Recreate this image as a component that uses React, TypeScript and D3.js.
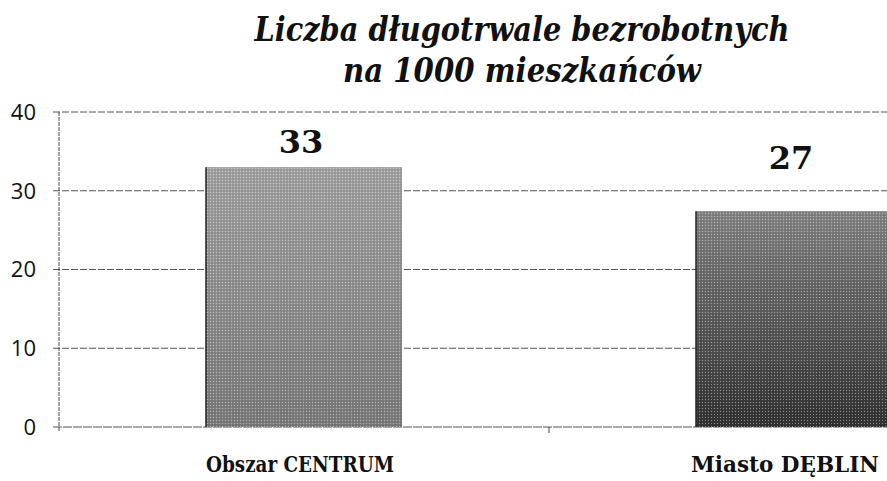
import * as d3 from "d3";
import React from "react";

// chart data
const categories = ["Obszar CENTRUM", "Miasto DĘBLIN"];
const values = [33, 27.4];
const yTicks = [0, 10, 20, 30, 40];
const titleLines = ["Liczba długotrwale bezrobotnych", "na 1000 mieszkańców"];

const W = 887;
const H = 481;
// plot area runs past the right edge (the original is cropped there)
const plot = { left: 59, right: 1039, top: 112, bottom: 427 };
const labelLift = [14, 42]; // value labels were nudged by hand in the original
const barFill = ["url(#g0)", "url(#g1)"];
const serif = "'DejaVu Serif', serif";
const catLabelW = 188;

export default function App() {
  const x = d3
    .scaleBand<string>()
    .domain(categories)
    .range([plot.left, plot.right])
    .padding(0);
  const barW = x.bandwidth() * 0.4;
  const y = d3.scaleLinear().domain([0, 40]).range([plot.bottom, plot.top]);
  const fmt = d3.format(".0f");
  const center = (c: string) => (x(c) ?? 0) + x.bandwidth() / 2;

  return (
    <svg
      width={W}
      height={H}
      style={{ position: "absolute", left: 0, top: 0, background: "#fff" }}
    >
      <defs>
        <linearGradient id="g0" x1="0" y1="0" x2="0" y2="1">
          <stop offset="0" stopColor="#a4a4a4" />
          <stop offset="1" stopColor="#7c7c7c" />
        </linearGradient>
        <linearGradient id="g1" x1="0" y1="0" x2="0" y2="1">
          <stop offset="0" stopColor="#858585" />
          <stop offset="1" stopColor="#333" />
        </linearGradient>
        <pattern id="tex" width="3" height="3" patternUnits="userSpaceOnUse">
          <rect x="0" y="0" width="1" height="1" fill="#fff" opacity="0.4" />
          <rect x="1.5" y="1.5" width="1" height="1" fill="#000" opacity="0.3" />
        </pattern>
        <clipPath id="clip">
          <rect x={0} y={0} width={W} height={H} />
        </clipPath>
      </defs>

      {/* title */}
      {titleLines.map((t, i) => (
        <text
          key={t}
          x={522}
          y={41 + i * 41}
          textAnchor="middle"
          fontFamily={serif}
          fontWeight="bold"
          fontStyle="italic"
          fontSize={33}
          textLength={i === 0 ? 535 : 358}
          lengthAdjust="spacingAndGlyphs"
          fill="#111"
        >
          {t}
        </text>
      ))}

      <g clipPath="url(#clip)">
        {/* gridlines + y ticks */}
        {yTicks.map((t) => (
          <g key={t}>
            <line
              x1={plot.left - 6}
              x2={plot.right}
              y1={y(t)}
              y2={y(t)}
              stroke="#555"
              strokeWidth={1}
              strokeDasharray={t === 0 ? "9 1" : "7 2"}
            />
            <text
              x={36}
              y={y(t)}
              dy="0.36em"
              textAnchor="end"
              fontFamily="'Open Sans', sans-serif"
              fontSize={22}
              fill="#111"
            >
              {t}
            </text>
          </g>
        ))}

        {/* y axis line */}
        <line
          x1={plot.left}
          x2={plot.left}
          y1={plot.top}
          y2={plot.bottom + 4}
          stroke="#444"
          strokeDasharray="4 1"
        />
        {/* category divider tick */}
        <line
          x1={plot.left + x.step()}
          x2={plot.left + x.step()}
          y1={plot.bottom}
          y2={plot.bottom + 6}
          stroke="#444"
        />

        {/* bars */}
        {categories.map((c, i) => {
          const cx = center(c);
          const x0 = cx - barW / 2;
          return (
            <g key={c}>
              <rect
                x={x0}
                y={y(values[i])}
                width={barW}
                height={y(0) - y(values[i])}
                fill={barFill[i]}
              />
              <rect
                x={x0}
                y={y(values[i])}
                width={barW}
                height={y(0) - y(values[i])}
                fill="url(#tex)"
              />
              <line
                x1={x0}
                x2={x0}
                y1={y(values[i])}
                y2={y(0)}
                stroke="#222"
                strokeWidth={1.5}
              />
              <text
                x={cx - 3}
                y={y(values[i]) - labelLift[i]}
                textAnchor="middle"
                fontFamily={serif}
                fontWeight="bold"
                fontSize={32}
                fill="#111"
              >
                {fmt(values[i])}
              </text>
            </g>
          );
        })}
      </g>

      {/* category labels, kept inside the visible area */}
      {categories.map((c) => (
        <text
          key={c}
          x={Math.min(center(c) - 4, W - 8 - catLabelW / 2)}
          y={472}
          textAnchor="middle"
          fontFamily={serif}
          fontWeight="bold"
          fontSize={22}
          textLength={catLabelW}
          lengthAdjust="spacingAndGlyphs"
          fill="#111"
        >
          {c}
        </text>
      ))}
    </svg>
  );
}
